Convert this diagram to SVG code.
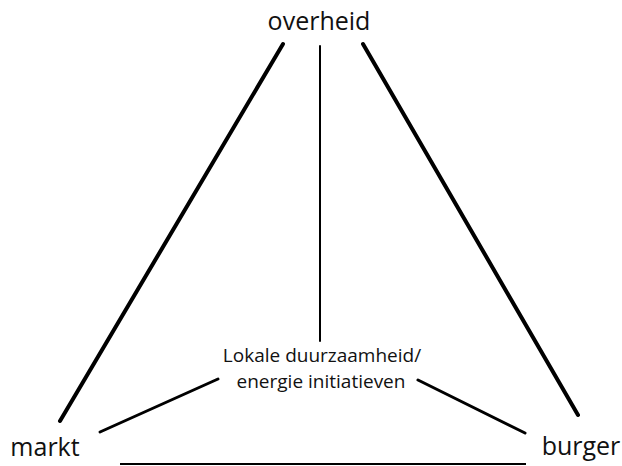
<svg xmlns="http://www.w3.org/2000/svg" width="622" height="466" viewBox="0 0 622 466">
<style>
.lbl{font-family:"Open Sans","Liberation Sans",sans-serif;fill:#111;text-anchor:middle}
.big{font-size:25px}
.small{font-size:19px}
.c{stroke:#000;fill:none;stroke-linecap:round}
</style>
<rect width="622" height="466" fill="#fff"/>
<g id="connectors">
<line class="c" x1="283" y1="44" x2="60" y2="421" stroke-width="4"/>
<line class="c" x1="320" y1="46" x2="320" y2="341" stroke-width="2"/>
<line class="c" x1="363" y1="44" x2="578" y2="415" stroke-width="4"/>
<line class="c" x1="100" y1="432" x2="218" y2="379" stroke-width="3"/>
<line class="c" x1="418" y1="380" x2="525" y2="433" stroke-width="3"/>
<line x1="120" y1="464" x2="526" y2="464" stroke="#000" stroke-width="2"/>
</g>
<g id="overheid"><text class="lbl big" x="319" y="30">overheid</text></g>
<g id="markt"><text class="lbl big" x="45" y="456">markt</text></g>
<g id="burger"><text class="lbl big" x="581" y="455">burger</text></g>
<g id="initiatieven">
<text class="lbl small" x="322" y="362">Lokale duurzaamheid/</text>
<text class="lbl small" x="321" y="388">energie initiatieven</text>
</g>
</svg>
